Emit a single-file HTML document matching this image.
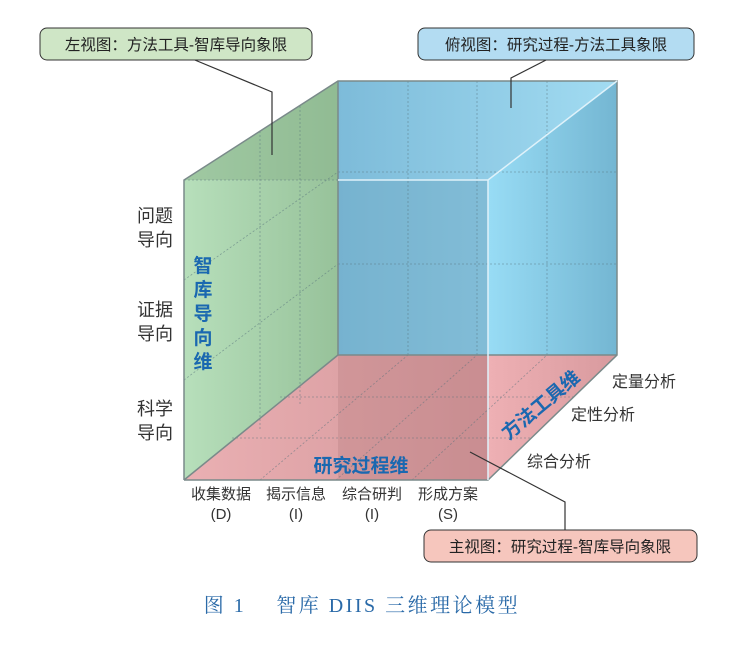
<!DOCTYPE html>
<html><head><meta charset="utf-8"><style>
body{margin:0;background:#fff;width:743px;height:657px;overflow:hidden}
svg{display:block;font-family:"Liberation Sans","Noto Sans CJK SC",sans-serif}
</style></head><body>
<svg width="743" height="657" viewBox="0 0 743 657">
<defs>
<linearGradient id="gBack" x1="0" x2="1" y1="0" y2="0"><stop offset="0" stop-color="#7dbbd9"/><stop offset="1" stop-color="#a2dcf2"/></linearGradient>
<linearGradient id="gRight" x1="0" x2="1"><stop offset="0" stop-color="#98dcf5"/><stop offset="1" stop-color="#74b6d2"/></linearGradient>
<linearGradient id="gGreen" x1="0" x2="1"><stop offset="0" stop-color="#b7dfbb"/><stop offset="1" stop-color="#97c29a"/></linearGradient>
<linearGradient id="gFloor" x1="0" x2="1"><stop offset="0" stop-color="#eab0b3"/><stop offset="1" stop-color="#c98b8f"/></linearGradient>
<linearGradient id="gFloorR" x1="0" x2="1"><stop offset="0" stop-color="#eeb0b4"/><stop offset="1" stop-color="#d89a9e"/></linearGradient>
</defs>
<polygon points="338,81 617,81 617,355 338,355" fill="url(#gBack)"/>
<polygon points="184,480 488,480 617,355 338,355" fill="url(#gFloor)"/>
<polygon points="184,180 338,81 338,355 184,480" fill="url(#gGreen)"/>
<polygon points="184,180 338,81 338,180" fill="#8db68e" opacity="0.55"/>
<rect x="338" y="180" width="150" height="175" fill="#6fa8c3" opacity="0.45"/>
<rect x="338" y="355" width="150" height="125" fill="#b67e82" opacity="0.35"/>
<polygon points="488,180 617,81 617,355 488,480" fill="url(#gRight)"/>
<polygon points="488,355 617,355 488,480" fill="url(#gFloorR)"/>
<g stroke="#55707a" stroke-width="0.8" stroke-dasharray="2,2" opacity="0.55" fill="none">
<line x1="408" y1="81" x2="408" y2="355"/><line x1="477" y1="81" x2="477" y2="355"/><line x1="547" y1="81" x2="547" y2="355"/>
<line x1="338" y1="172" x2="617" y2="172"/><line x1="338" y1="264" x2="617" y2="264"/>
<line x1="260" y1="131" x2="260" y2="430"/><line x1="300" y1="106" x2="300" y2="405"/>
<line x1="184" y1="280" x2="338" y2="172"/><line x1="184" y1="380" x2="338" y2="264"/>
<line x1="260" y1="480" x2="408" y2="355"/><line x1="336" y1="480" x2="477" y2="355"/><line x1="412" y1="480" x2="547" y2="355"/>
<line x1="232" y1="438" x2="531" y2="438"/><line x1="280" y1="397" x2="574" y2="397"/>
<line x1="184" y1="180" x2="488" y2="180"/>
</g>
<g stroke="#7a8a8a" stroke-width="1.5" fill="none">
<polyline points="184,480 184,180 338,81 617,81 617,355 488,480 184,480"/>
<line x1="338" y1="81" x2="338" y2="355"/><line x1="338" y1="355" x2="617" y2="355"/>
<line x1="184" y1="480" x2="338" y2="355"/>
</g>
<g stroke="#dff2fa" stroke-width="1.5" fill="none"><polyline points="338,180 488,180 617,81"/><line x1="488" y1="180" x2="488" y2="480"/></g>
<g fill="#1a68b0" font-weight="bold" font-size="19">
<text x="203" y="272" text-anchor="middle"><tspan x="203">智</tspan><tspan x="203" dy="24">库</tspan><tspan x="203" dy="24">导</tspan><tspan x="203" dy="24">向</tspan><tspan x="203" dy="24">维</tspan></text>
<text x="361" y="472" text-anchor="middle">研究过程维</text>
<text x="0" y="0" text-anchor="middle" transform="translate(545,410) rotate(-40)">方法工具维</text>
</g>
<g fill="#333" font-size="18" text-anchor="middle">
<text x="155" y="222">问题<tspan x="155" dy="24">导向</tspan></text>
<text x="155" y="316">证据<tspan x="155" dy="24">导向</tspan></text>
<text x="155" y="415">科学<tspan x="155" dy="24">导向</tspan></text>
</g>
<g fill="#333" font-size="15" text-anchor="middle">
<text x="221" y="499">收集数据<tspan x="221" dy="20">(D)</tspan></text>
<text x="296" y="499">揭示信息<tspan x="296" dy="20">(I)</tspan></text>
<text x="372" y="499">综合研判<tspan x="372" dy="20">(I)</tspan></text>
<text x="448" y="499">形成方案<tspan x="448" dy="20">(S)</tspan></text>
</g>
<g fill="#333" font-size="16">
<text x="612" y="387">定量分析</text>
<text x="571" y="420">定性分析</text>
<text x="527" y="467">综合分析</text>
</g>
<g stroke="#333" stroke-width="1.2" fill="none">
<polyline points="190,58 272,92 272,155"/>
<polyline points="550,58 511,78 511,108"/>
<polyline points="470,452 565,502 565,532"/>
</g>
<g font-size="15.5" fill="#222">
<rect x="40" y="28" width="272" height="32" rx="7" fill="#cfe6c6" stroke="#333" stroke-width="1"/>
<text x="176" y="50" text-anchor="middle">左视图：方法工具-智库导向象限</text>
<rect x="418" y="28" width="276" height="32" rx="7" fill="#b3dcf2" stroke="#333" stroke-width="1"/>
<text x="556" y="50" text-anchor="middle">俯视图：研究过程-方法工具象限</text>
<rect x="424" y="530" width="273" height="32" rx="7" fill="#f6c6bd" stroke="#333" stroke-width="1"/>
<text x="560" y="552" text-anchor="middle">主视图：研究过程-智库导向象限</text>
</g>
<text x="362" y="612" text-anchor="middle" font-family="'Liberation Serif','Noto Serif CJK SC',serif" font-size="20" letter-spacing="2.5" fill="#2a6aa8" xml:space="preserve">图 1    智库 DIIS 三维理论模型</text>
</svg>
</body></html>
